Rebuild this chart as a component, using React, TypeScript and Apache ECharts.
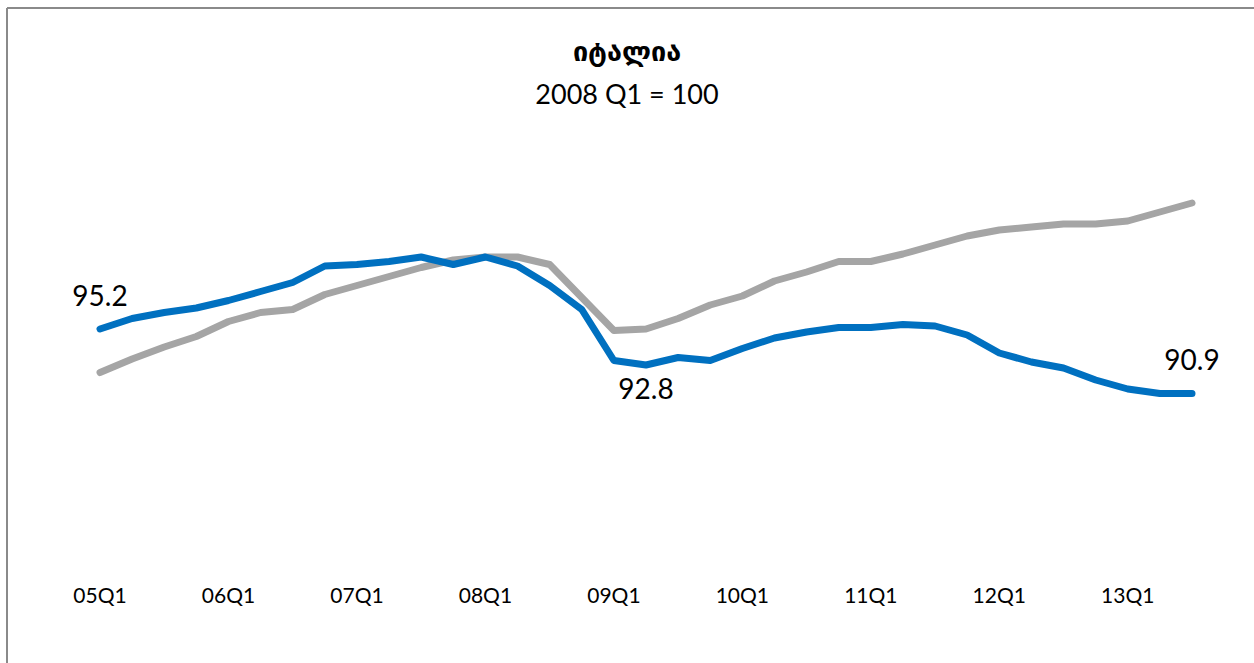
import React, { useEffect, useRef } from "react";
import * as echarts from "echarts";

const categories = [
  "05Q1", "05Q2", "05Q3", "05Q4",
  "06Q1", "06Q2", "06Q3", "06Q4",
  "07Q1", "07Q2", "07Q3", "07Q4",
  "08Q1", "08Q2", "08Q3", "08Q4",
  "09Q1", "09Q2", "09Q3", "09Q4",
  "10Q1", "10Q2", "10Q3", "10Q4",
  "11Q1", "11Q2", "11Q3", "11Q4",
  "12Q1", "12Q2", "12Q3", "12Q4",
  "13Q1", "13Q2", "13Q3",
];

const blueValues = [
  95.2, 95.9, 96.3, 96.6,
  97.1, 97.7, 98.3, 99.4,
  99.5, 99.7, 100.0, 99.5,
  100.0, 99.4, 98.1, 96.5,
  93.1, 92.8, 93.3, 93.1,
  93.9, 94.6, 95.0, 95.3,
  95.3, 95.5, 95.4, 94.8,
  93.6, 93.0, 92.6, 91.8,
  91.2, 90.9, 90.9,
];

const grayValues = [
  92.3, 93.2, 94.0, 94.7,
  95.7, 96.3, 96.5, 97.5,
  98.1, 98.7, 99.3, 99.8,
  100.0, 100.0, 99.5, 97.3,
  95.1, 95.2, 95.9, 96.8,
  97.4, 98.4, 99.0, 99.7,
  99.7, 100.2, 100.8, 101.4,
  101.8, 102.0, 102.2, 102.2,
  102.4, 103.0, 103.6,
];

const titleText = "იტალია";
const subtitleText = "2008 Q1 = 100";

// indices of the blue points that carry a value label
const labelledBlue = [0, 17, 34];
const labelBelow = [17];

export default function App() {
  const ref = useRef<HTMLDivElement>(null);

  useEffect(() => {
    if (!ref.current) return;
    const chart = echarts.init(ref.current, null, { renderer: "svg" });
    const font = "Lato, 'DejaVu Sans', sans-serif";

    const blueData = blueValues.map((v, i) => {
      if (!labelledBlue.includes(i)) return v;
      const below = labelBelow.includes(i);
      return {
        value: v,
        label: {
          show: true,
          position: below ? "bottom" : "top",
          distance: below ? 8 : 20,
          formatter: (p: any) => Number(p.value).toFixed(1),
          fontFamily: font,
          fontSize: 28,
          color: "#000",
        },
      };
    });

    chart.setOption({
      animation: false,
      backgroundColor: "#fff",
      title: [
        {
          text: titleText,
          left: "center",
          top: 32,
          textStyle: {
            fontFamily: font,
            fontSize: 27,
            fontWeight: "bold",
            color: "#000",
          },
        },
        {
          text: subtitleText,
          left: "center",
          top: 75,
          textStyle: {
            fontFamily: font,
            fontSize: 27,
            fontWeight: "normal",
            color: "#000",
          },
        },
      ],
      graphic: [
        {
          type: "line",
          shape: { x1: 7, y1: 8, x2: 1254, y2: 8 },
          style: { stroke: "#8a8a8a", lineWidth: 2 },
        },
        {
          type: "line",
          shape: { x1: 7, y1: 8, x2: 7, y2: 663 },
          style: { stroke: "#8a8a8a", lineWidth: 2 },
        },
      ],
      grid: { left: 100, right: 62, top: 182, bottom: 106 },
      xAxis: {
        type: "category",
        data: categories,
        boundaryGap: false,
        axisLine: { show: false },
        axisTick: { show: false },
        splitLine: { show: false },
        axisLabel: {
          interval: 3,
          margin: 27,
          fontFamily: font,
          fontSize: 21,
          color: "#000",
        },
      },
      yAxis: {
        type: "value",
        min: 80,
        max: 105,
        show: false,
      },
      series: [
        {
          name: "gray",
          type: "line",
          data: grayValues,
          symbol: "none",
          lineStyle: { color: "#a5a5a5", width: 7, cap: "round", join: "round" },
          z: 2,
        },
        {
          name: "blue",
          type: "line",
          data: blueData,
          symbol: "circle",
          symbolSize: 1,
          showSymbol: true,
          showAllSymbol: true,
          itemStyle: { color: "#0070c0" },
          lineStyle: { color: "#0070c0", width: 7, cap: "round", join: "round" },
          z: 3,
        },
      ],
    });

    return () => chart.dispose();
  }, []);

  return (
    <div
      ref={ref}
      style={{ position: "fixed", left: 0, top: 0, width: 1254, height: 663 }}
    />
  );
}
